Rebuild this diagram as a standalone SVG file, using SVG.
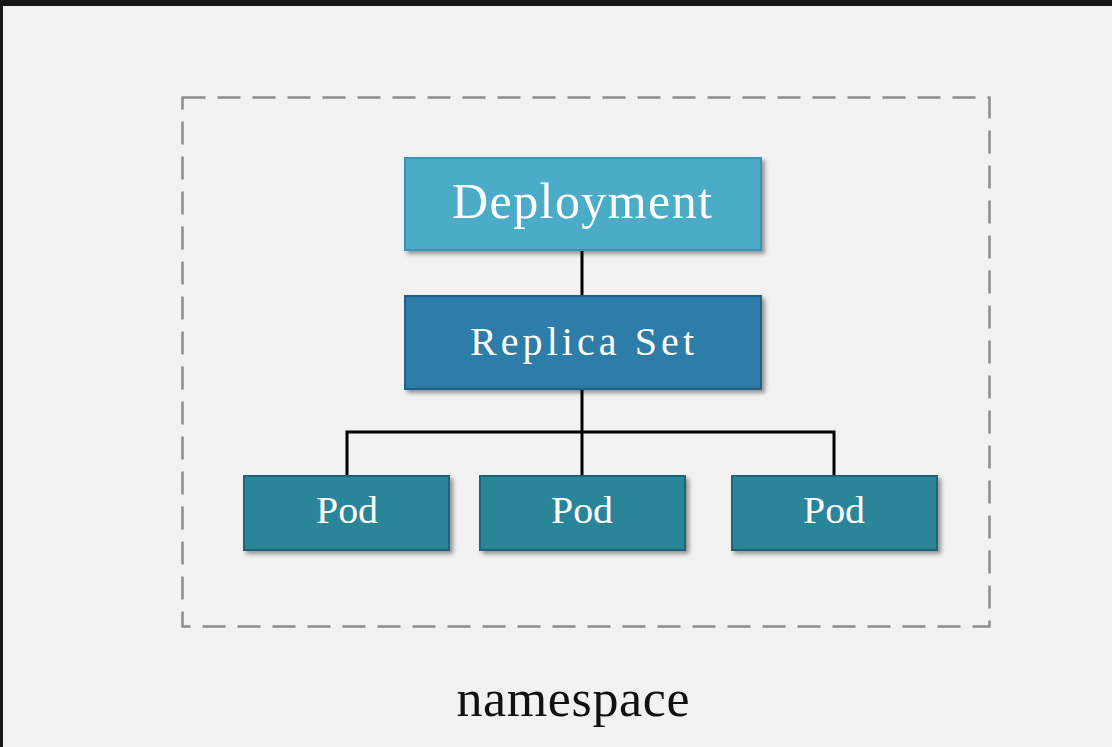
<svg xmlns="http://www.w3.org/2000/svg" width="1112" height="747" viewBox="0 0 1112 747">
  <defs>
    <filter id="sh" x="-10%" y="-10%" width="130%" height="140%">
      <feDropShadow dx="3" dy="3" stdDeviation="2" flood-color="#000" flood-opacity="0.4"/>
    </filter>
    <style>
      .box { stroke-width: 2; filter: url(#sh); }
      .dep { fill: #4bacc8; stroke: #3d93b2; }
      .rs { fill: #2e7ca8; stroke: #22618a; }
      .pod { fill: #2c8599; stroke: #1f6678; }
      .lbl { font-family: "Liberation Serif", "DejaVu Serif", serif; fill: #ffffff; text-anchor: middle; }
      .serif { font-family: "Liberation Serif", "DejaVu Serif", serif; text-anchor: middle; }
      .conn { stroke: #000; stroke-width: 3; fill: none; }
    </style>
  </defs>
  <rect x="0" y="0" width="1112" height="747" fill="#f2f2f2"/>
  <rect x="0" y="0" width="1112" height="6" fill="#161616"/>
  <rect x="0" y="0" width="3" height="747" fill="#161616"/>

  <g id="namespace">
    <rect x="182.5" y="97.5" width="807" height="529" fill="none" stroke="#8c8c8c" stroke-width="2.5" stroke-dasharray="23 12"/>
    <text class="serif" x="573" y="716" font-size="52" fill="#111" textLength="233" lengthAdjust="spacing">namespace</text>
  </g>

  <g id="connectors">
    <line class="conn" x1="582" y1="250" x2="582" y2="296"/>
    <line class="conn" x1="582" y1="389" x2="582" y2="476"/>
    <polyline class="conn" points="347,476 347,432 834,432 834,476"/>
  </g>

  <g id="deployment">
    <rect class="box dep" x="405" y="158" width="356" height="92"/>
    <text class="lbl" x="582" y="218" font-size="50" textLength="260" lengthAdjust="spacing">Deployment</text>
  </g>

  <g id="replicaset">
    <rect class="box rs" x="405" y="296" width="356" height="93"/>
    <text class="lbl" x="582" y="355" font-size="40" textLength="224" lengthAdjust="spacing">Replica Set</text>
  </g>

  <g id="pod1">
    <rect class="box pod" x="244" y="476" width="205" height="74"/>
    <text class="lbl" x="347" y="523" font-size="38" textLength="62" lengthAdjust="spacingAndGlyphs">Pod</text>
  </g>
  <g id="pod2">
    <rect class="box pod" x="480" y="476" width="205" height="74"/>
    <text class="lbl" x="582" y="523" font-size="38" textLength="62" lengthAdjust="spacingAndGlyphs">Pod</text>
  </g>
  <g id="pod3">
    <rect class="box pod" x="732" y="476" width="205" height="74"/>
    <text class="lbl" x="834" y="523" font-size="38" textLength="62" lengthAdjust="spacingAndGlyphs">Pod</text>
  </g>
</svg>
